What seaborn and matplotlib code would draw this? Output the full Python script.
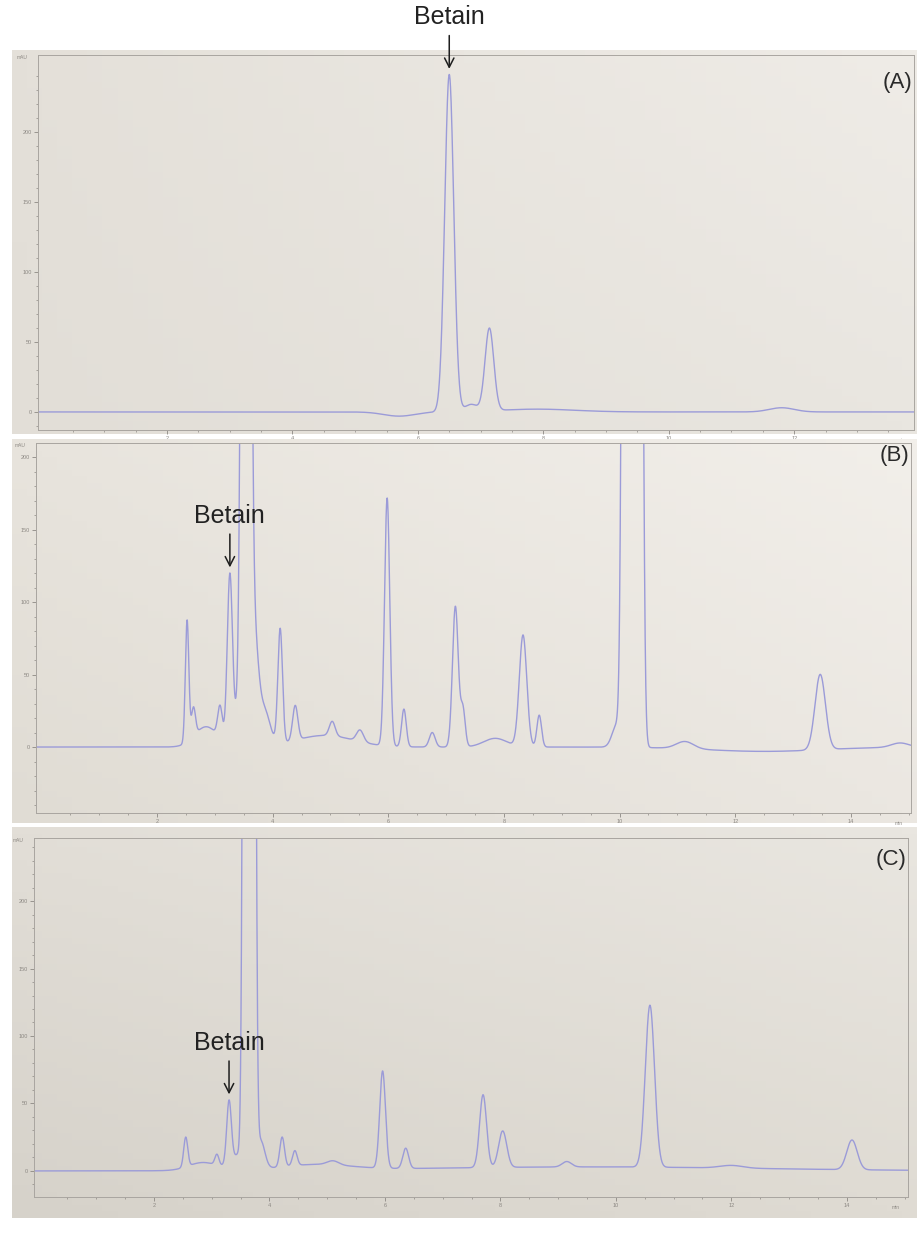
import numpy as np
import matplotlib
matplotlib.use("Agg")
import matplotlib.pyplot as plt
import seaborn as sns

# HPLC chromatograms (A) standard, (B) and (C) samples
# peak tables: retention time (min), height (mAU), width (sigma, min)
a_rt = [5.70, 6.50, 6.85, 7.14, 7.90, 11.80]
a_height = [-3, 241, 5, 59, 2, 3]
a_sigma = [0.25, 0.072, 0.10, 0.07, 0.60, 0.20]

b_rt = [2.52, 2.63, 2.85, 3.09, 3.26, 3.40, 3.54, 3.68, 3.85, 4.13, 4.39, 4.90, 5.03, 5.51,
        5.98, 6.27, 6.76, 7.16, 7.29, 7.85, 8.33, 8.61, 9.95, 10.12, 10.32, 11.13,
        12.50, 13.47, 14.85]
b_height = [84, 20, 14, 22, 117, 20, 1500, 70, 25, 79, 24, 8, 10, 8,
            171, 26, 10, 97, 26, 6, 77, 22, 15, 1500, 1500, 5,
            -3, 52, 3]
b_sigma = [0.03, 0.035, 0.20, 0.04, 0.045, 0.06, 0.055, 0.07, 0.10, 0.04, 0.045, 0.50, 0.05, 0.06,
           0.045, 0.04, 0.05, 0.05, 0.04, 0.20, 0.065, 0.04, 0.08, 0.05, 0.05, 0.15,
           1.00, 0.09, 0.15]

c_rt = [2.55, 2.85, 3.09, 3.30, 3.50, 3.60, 3.70, 3.85, 4.22, 4.44, 4.80, 5.10,
        5.96, 6.36, 7.70, 8.04, 9.15, 9.50, 10.59, 12.00, 14.09]
c_height = [22, 6, 8, 46, 12, 1500, 1500, 20, 22, 11, 4, 3,
            72, 15, 54, 27, 4, 3, 120, 2, 22]
c_sigma = [0.035, 0.25, 0.035, 0.04, 0.15, 0.04, 0.04, 0.07, 0.04, 0.04, 0.60, 0.10,
           0.05, 0.05, 0.06, 0.07, 0.08, 3.00, 0.08, 0.20, 0.09]

panel_labels = ["(A)", "(B)", "(C)"]
betain_rt = [6.50, 3.26, 3.30]
y_ticks = [0, 50, 100, 150, 200]
x_ticks = [2, 4, 6, 8, 10, 12, 14]


def trace(t, rts, heights, sigmas):
    y = np.zeros_like(t)
    for r, h, s in zip(rts, heights, sigmas):
        y += h * np.exp(-(t - r) ** 2 / (2 * s ** 2))
    return y


W, H = 919, 1234


def box(left, top, right, bottom):
    return [left / W, 1 - bottom / H, (right - left) / W, (bottom - top) / H]


sns.set_theme(style="white")
plt.rcParams['font.family'] = ['Liberation Sans', 'DejaVu Sans']

fig = plt.figure(figsize=(W / 100, H / 100), dpi=100)
fig.patch.set_facecolor("white")

panels = [
    dict(paper=(12, 50, 917, 434), plot=(38, 55, 914, 430), xlim=(-0.057, 13.91), ylim=(-12.9, 255),
         corners=["#e4e0d9", "#efece7", "#e2ded7", "#e9e6e0"], peaks=(a_rt, a_height, a_sigma), label_y=0.955),
    dict(paper=(12, 439, 917, 823), plot=(36, 443, 911, 813), xlim=(-0.093, 15.04), ylim=(-45.5, 209.7),
         corners=["#e8e4dd", "#f2efea", "#e0dcd4", "#ebe7e1"], peaks=(b_rt, b_height, b_sigma), label_y=0.994),
    dict(paper=(12, 827, 917, 1218), plot=(34, 838, 908, 1197), xlim=(-0.078, 15.06), ylim=(-19.3, 246.7),
         corners=["#e2ded7", "#e9e6e0", "#d6d2ca", "#dfdbd3"], peaks=(c_rt, c_height, c_sigma), label_y=0.97),
]

line_color = "#9b9bd8"
frame_color = "#a9a5a0"
tick_color = "#8c8883"

for i, p in enumerate(panels):
    # photo paper background with a soft light gradient
    bg = fig.add_axes(box(*p["paper"]))
    tl, tr, bl, br = [np.array(matplotlib.colors.to_rgb(c)) for c in p["corners"]]
    u = np.linspace(0, 1, 60)[None, :, None]
    v = np.linspace(0, 1, 60)[:, None, None]
    img = (1 - v) * ((1 - u) * tl + u * tr) + v * ((1 - u) * bl + u * br)
    bg.imshow(img, aspect="auto", extent=[0, 1, 0, 1])
    bg.set_axis_off()

    ax = fig.add_axes(box(*p["plot"]))
    ax.set_facecolor("none")
    t = np.linspace(p["xlim"][0], p["xlim"][1], 4000)
    y = trace(t, *p["peaks"])
    sns.lineplot(x=t, y=y, ax=ax, color=line_color, linewidth=1.0, estimator=None, sort=False)

    for s in ax.spines.values():
        s.set_color(frame_color)
        s.set_linewidth(0.7)
    ax.set_xticks(x_ticks)
    ax.set_xticks(np.arange(0.5, 15.1, 0.5), minor=True)
    ax.set_yticks(y_ticks)
    ax.set_yticks(np.arange(-40, 250, 10), minor=True)
    ax.set_xlim(*p["xlim"])
    ax.set_ylim(*p["ylim"])
    ax.tick_params(axis="both", which="major", length=3, width=0.6, color=tick_color,
                   labelsize=4, labelcolor=tick_color, pad=1.5, left=True, bottom=True)
    ax.tick_params(axis="both", which="minor", length=1.5, width=0.5, color=tick_color,
                   left=True, bottom=True)
    ax.set_xlabel("")
    ax.set_ylabel("")
    ax.text(-0.012, 1.0, "mAU", transform=ax.transAxes, fontsize=3.5, color=tick_color,
            ha="right", va="top")
    ax.text(0.99, -0.022, "min", transform=ax.transAxes, fontsize=3.5, color=tick_color,
            ha="right", va="top")

    ax.text(0.998, p["label_y"], panel_labels[i], transform=ax.transAxes,
            fontsize=16, color="#2a2a2a", ha="right", va="top")

    # Betain marker: arrow and label above the peak
    rt = betain_rt[i]
    top = trace(np.array([rt]), *p["peaks"])[0]
    ax.annotate("", xy=(rt, top), xytext=(0, 28), textcoords="offset points",
                arrowprops=dict(arrowstyle="->,head_length=0.55,head_width=0.28", color="#1e1e1e",
                                lw=1.1, shrinkA=0, shrinkB=4),
                annotation_clip=False)
    ax.annotate("Betain", xy=(rt, top), xytext=(0, 36), textcoords="offset points",
                ha="center", va="baseline", fontsize=18, color="#222222",
                annotation_clip=False)

fig.savefig("out.png", dpi=100, facecolor=fig.get_facecolor())
